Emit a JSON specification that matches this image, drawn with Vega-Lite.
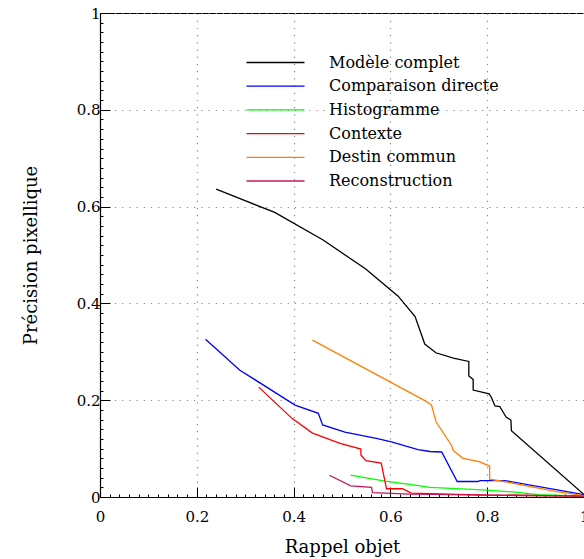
{
  "$schema": "https://vega.github.io/schema/vega-lite/v6.json",
  "width": 484,
  "height": 484,
  "autosize": {"type": "none"},
  "padding": {"left": 100, "top": 13, "right": 0, "bottom": 62},
  "background": "white",
  "config": {
    "view": {"stroke": "black", "strokeWidth": 1},
    "font": "DejaVu Serif"
  },
  "data": {
    "values": [
      {"s": "Modèle complet", "i": 0, "x": 0.240, "y": 0.636},
      {"s": "Modèle complet", "i": 1, "x": 0.361, "y": 0.588},
      {"s": "Modèle complet", "i": 2, "x": 0.461, "y": 0.531},
      {"s": "Modèle complet", "i": 3, "x": 0.549, "y": 0.471},
      {"s": "Modèle complet", "i": 4, "x": 0.616, "y": 0.415},
      {"s": "Modèle complet", "i": 5, "x": 0.651, "y": 0.373},
      {"s": "Modèle complet", "i": 6, "x": 0.671, "y": 0.316},
      {"s": "Modèle complet", "i": 7, "x": 0.694, "y": 0.298},
      {"s": "Modèle complet", "i": 8, "x": 0.730, "y": 0.287},
      {"s": "Modèle complet", "i": 9, "x": 0.762, "y": 0.280},
      {"s": "Modèle complet", "i": 10, "x": 0.762, "y": 0.250},
      {"s": "Modèle complet", "i": 11, "x": 0.771, "y": 0.243},
      {"s": "Modèle complet", "i": 12, "x": 0.771, "y": 0.221},
      {"s": "Modèle complet", "i": 13, "x": 0.804, "y": 0.213},
      {"s": "Modèle complet", "i": 14, "x": 0.809, "y": 0.205},
      {"s": "Modèle complet", "i": 15, "x": 0.816, "y": 0.188},
      {"s": "Modèle complet", "i": 16, "x": 0.826, "y": 0.187},
      {"s": "Modèle complet", "i": 17, "x": 0.839, "y": 0.165},
      {"s": "Modèle complet", "i": 18, "x": 0.849, "y": 0.159},
      {"s": "Modèle complet", "i": 19, "x": 0.850, "y": 0.137},
      {"s": "Modèle complet", "i": 20, "x": 1.0, "y": 0.005},

      {"s": "Comparaison directe", "i": 0, "x": 0.218, "y": 0.326},
      {"s": "Comparaison directe", "i": 1, "x": 0.289, "y": 0.262},
      {"s": "Comparaison directe", "i": 2, "x": 0.403, "y": 0.190},
      {"s": "Comparaison directe", "i": 3, "x": 0.451, "y": 0.173},
      {"s": "Comparaison directe", "i": 4, "x": 0.460, "y": 0.149},
      {"s": "Comparaison directe", "i": 5, "x": 0.506, "y": 0.134},
      {"s": "Comparaison directe", "i": 6, "x": 0.571, "y": 0.121},
      {"s": "Comparaison directe", "i": 7, "x": 0.602, "y": 0.114},
      {"s": "Comparaison directe", "i": 8, "x": 0.657, "y": 0.098},
      {"s": "Comparaison directe", "i": 9, "x": 0.682, "y": 0.094},
      {"s": "Comparaison directe", "i": 10, "x": 0.706, "y": 0.093},
      {"s": "Comparaison directe", "i": 11, "x": 0.738, "y": 0.032},
      {"s": "Comparaison directe", "i": 12, "x": 0.781, "y": 0.032},
      {"s": "Comparaison directe", "i": 13, "x": 0.785, "y": 0.034},
      {"s": "Comparaison directe", "i": 14, "x": 0.836, "y": 0.034},
      {"s": "Comparaison directe", "i": 15, "x": 1.0, "y": 0.005},

      {"s": "Histogramme", "i": 0, "x": 0.518, "y": 0.045},
      {"s": "Histogramme", "i": 1, "x": 0.589, "y": 0.033},
      {"s": "Histogramme", "i": 2, "x": 0.647, "y": 0.025},
      {"s": "Histogramme", "i": 3, "x": 0.682, "y": 0.020},
      {"s": "Histogramme", "i": 4, "x": 0.800, "y": 0.014},
      {"s": "Histogramme", "i": 5, "x": 0.858, "y": 0.010},
      {"s": "Histogramme", "i": 6, "x": 0.905, "y": 0.005},
      {"s": "Histogramme", "i": 7, "x": 1.0, "y": 0.002},

      {"s": "Contexte", "i": 0, "x": 0.328, "y": 0.227},
      {"s": "Contexte", "i": 1, "x": 0.396, "y": 0.163},
      {"s": "Contexte", "i": 2, "x": 0.439, "y": 0.132},
      {"s": "Contexte", "i": 3, "x": 0.496, "y": 0.111},
      {"s": "Contexte", "i": 4, "x": 0.539, "y": 0.099},
      {"s": "Contexte", "i": 5, "x": 0.539, "y": 0.087},
      {"s": "Contexte", "i": 6, "x": 0.549, "y": 0.075},
      {"s": "Contexte", "i": 7, "x": 0.581, "y": 0.070},
      {"s": "Contexte", "i": 8, "x": 0.592, "y": 0.017},
      {"s": "Contexte", "i": 9, "x": 0.625, "y": 0.017},
      {"s": "Contexte", "i": 10, "x": 0.643, "y": 0.008},
      {"s": "Contexte", "i": 11, "x": 0.800, "y": 0.004},
      {"s": "Contexte", "i": 12, "x": 1.0, "y": 0.002},

      {"s": "Destin commun", "i": 0, "x": 0.439, "y": 0.324},
      {"s": "Destin commun", "i": 1, "x": 0.671, "y": 0.199},
      {"s": "Destin commun", "i": 2, "x": 0.685, "y": 0.190},
      {"s": "Destin commun", "i": 3, "x": 0.694, "y": 0.156},
      {"s": "Destin commun", "i": 4, "x": 0.726, "y": 0.107},
      {"s": "Destin commun", "i": 5, "x": 0.730, "y": 0.096},
      {"s": "Destin commun", "i": 6, "x": 0.750, "y": 0.080},
      {"s": "Destin commun", "i": 7, "x": 0.783, "y": 0.073},
      {"s": "Destin commun", "i": 8, "x": 0.805, "y": 0.064},
      {"s": "Destin commun", "i": 9, "x": 0.805, "y": 0.037},
      {"s": "Destin commun", "i": 10, "x": 0.840, "y": 0.031},
      {"s": "Destin commun", "i": 11, "x": 0.943, "y": 0.011},
      {"s": "Destin commun", "i": 12, "x": 1.0, "y": 0.003},

      {"s": "Reconstruction", "i": 0, "x": 0.474, "y": 0.045},
      {"s": "Reconstruction", "i": 1, "x": 0.518, "y": 0.023},
      {"s": "Reconstruction", "i": 2, "x": 0.561, "y": 0.020},
      {"s": "Reconstruction", "i": 3, "x": 0.563, "y": 0.009},
      {"s": "Reconstruction", "i": 4, "x": 0.640, "y": 0.006},
      {"s": "Reconstruction", "i": 5, "x": 0.800, "y": 0.004},
      {"s": "Reconstruction", "i": 6, "x": 1.0, "y": 0.002}
    ]
  },
  "mark": {"type": "line", "strokeWidth": 1.3, "clip": true},
  "encoding": {
    "x": {
      "field": "x", "type": "quantitative",
      "scale": {"domain": [0, 1], "nice": false, "zero": false},
      "axis": {
        "title": "Rappel objet",
        "titleFont": "DejaVu Serif", "titleFontSize": 18, "titleFontWeight": "normal", "titleColor": "black",
        "titlePadding": 7,
        "values": [0,0.02,0.04,0.06,0.08,0.1,0.12,0.14,0.16,0.18,0.2,0.22,0.24,0.26,0.28,0.3,0.32,0.34,0.36,0.38,0.4,0.42,0.44,0.46,0.48,0.5,0.52,0.54,0.56,0.58,0.6,0.62,0.64,0.66,0.68,0.7,0.72,0.74,0.76,0.78,0.8,0.82,0.84,0.86,0.88,0.9,0.92,0.94,0.96,0.98,1],
        "format": "~g",
        "labelExpr": "abs(datum.value*5-round(datum.value*5))<0.001 ? datum.label : ''",
        "labelFont": "DejaVu Serif", "labelFontSize": 15, "labelColor": "black",
        "labelPadding": 22, "labelOverlap": false, "labelFlush": false,
        "domainColor": "black", "domainWidth": 1.2,
        "tickColor": "black",
        "tickSize": {"condition": {"test": "abs(datum.value*5-round(datum.value*5))<0.001", "value": -10}, "value": -3},
        "grid": true,
        "gridColor": "#888888",
        "gridDash": [1.2, 6],
        "gridWidth": 1.2,
        "gridOpacity": {"condition": {"test": "abs(datum.value*5-round(datum.value*5))<0.001", "value": 1}, "value": 0}
      }
    },
    "y": {
      "field": "y", "type": "quantitative",
      "scale": {"domain": [0, 1], "nice": false, "zero": false},
      "axis": {
        "title": "Précision pixellique",
        "titleFont": "DejaVu Serif", "titleFontSize": 18, "titleFontWeight": "normal", "titleColor": "black",
        "titlePadding": 36,
        "values": [0,0.02,0.04,0.06,0.08,0.1,0.12,0.14,0.16,0.18,0.2,0.22,0.24,0.26,0.28,0.3,0.32,0.34,0.36,0.38,0.4,0.42,0.44,0.46,0.48,0.5,0.52,0.54,0.56,0.58,0.6,0.62,0.64,0.66,0.68,0.7,0.72,0.74,0.76,0.78,0.8,0.82,0.84,0.86,0.88,0.9,0.92,0.94,0.96,0.98,1],
        "format": "~g",
        "labelExpr": "abs(datum.value*5-round(datum.value*5))<0.001 ? datum.label : ''",
        "labelFont": "DejaVu Serif", "labelFontSize": 15, "labelColor": "black",
        "labelPadding": 10, "labelOverlap": false, "labelFlush": false,
        "domainColor": "black", "domainWidth": 1.2,
        "tickColor": "black",
        "tickSize": {"condition": {"test": "abs(datum.value*5-round(datum.value*5))<0.001", "value": -10}, "value": -3},
        "grid": true,
        "gridColor": "#888888",
        "gridDash": [1.2, 6],
        "gridWidth": 1.2,
        "gridOpacity": {"condition": {"test": "abs(datum.value*5-round(datum.value*5))<0.001", "value": 1}, "value": 0}
      }
    },
    "color": {
      "field": "s", "type": "nominal",
      "scale": {
        "domain": ["Modèle complet", "Comparaison directe", "Histogramme", "Contexte", "Destin commun", "Reconstruction"],
        "range": ["#000000", "#0000ff", "#00ff00", "#ff0000", "#ff8000", "#c2185b"]
      },
      "legend": {
        "title": null,
        "orient": "none",
        "legendX": 165,
        "legendY": 39,
        "symbolType": "M-3,0H3",
        "symbolSize": 374,
        "symbolStrokeWidth": 1.3,
        "labelFont": "DejaVu Serif",
        "labelFontSize": 16,
        "labelColor": "black",
        "labelOffset": 43,
        "labelLimit": 0,
        "rowPadding": 4.7
      }
    },
    "order": {"field": "i", "type": "quantitative"}
  }
}
